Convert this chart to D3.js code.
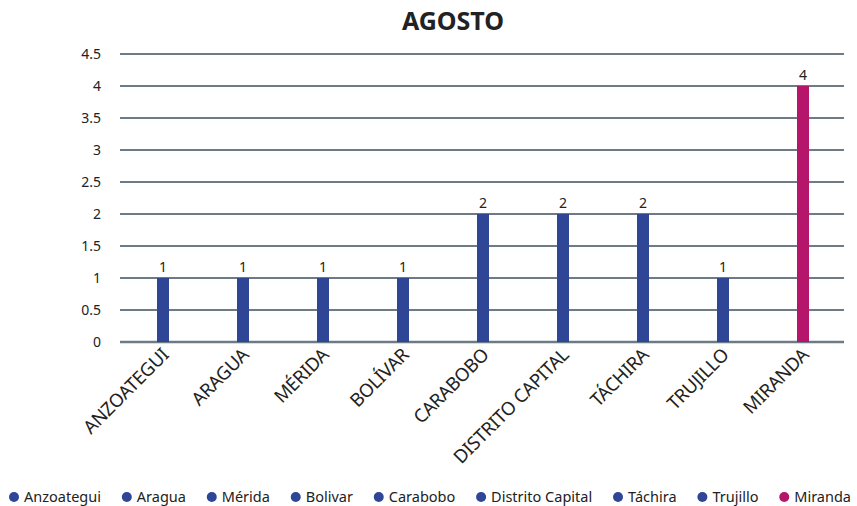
<!DOCTYPE html>
<html>
<head>
<meta charset="utf-8">
<script src="https://cdn.jsdelivr.net/npm/d3@7"></script>
<style>
body { margin: 0; background: #fff; }
text { font-family: "Noto Sans", "Open Sans", sans-serif; fill: #222; }
</style>
</head>
<body>
<svg width="857" height="506"></svg>
<script>
const categories = ["ANZOATEGUI", "ARAGUA", "MÉRIDA", "BOLÍVAR", "CARABOBO", "DISTRITO CAPITAL", "TÁCHIRA", "TRUJILLO", "MIRANDA"];
const values = [1, 1, 1, 1, 2, 2, 2, 1, 4];
const legendNames = ["Anzoategui", "Aragua", "Mérida", "Bolivar", "Carabobo", "Distrito Capital", "Táchira", "Trujillo", "Miranda"];
const yTicks = [0, 0.5, 1, 1.5, 2, 2.5, 3, 3.5, 4, 4.5];

const blue = "#2f4595", magenta = "#b5156b";
const barColor = (d, i) => i === categories.length - 1 ? magenta : blue;

const svg = d3.select("svg");

const x = d3.scaleBand().domain(categories).range([123, 843]);
const y = d3.scaleLinear().domain([0, 4.5]).range([342, 54]);

svg.append("text")
    .attr("x", 453).attr("y", 30)
    .attr("text-anchor", "middle")
    .style("font-size", "25px").style("font-weight", "bold")
    .text("AGOSTO");

// grid
svg.append("g").selectAll("line")
    .data(yTicks).enter().append("line")
    .attr("x1", 120).attr("x2", 844)
    .attr("y1", d => y(d)).attr("y2", d => y(d))
    .attr("stroke", "#6d7b87").attr("stroke-width", d => d === 0 ? 2.5 : 1.8);

svg.append("g").selectAll("text")
    .data(yTicks).enter().append("text")
    .attr("x", 101).attr("y", d => y(d) + 5)
    .attr("text-anchor", "end")
    .style("font-size", "14px")
    .text(d => d);

// bars
svg.append("g").selectAll("rect")
    .data(values).enter().append("rect")
    .attr("x", (d, i) => x(categories[i]) + x.bandwidth() / 2 - 6)
    .attr("width", 12)
    .attr("y", d => y(d))
    .attr("height", d => y(0) - y(d))
    .attr("fill", barColor);

svg.append("g").selectAll("text")
    .data(values).enter().append("text")
    .attr("x", (d, i) => x(categories[i]) + x.bandwidth() / 2)
    .attr("y", d => y(d) - 6)
    .attr("text-anchor", "middle")
    .style("font-size", "14px")
    .text(d => d);

// x labels
svg.append("g").selectAll("text")
    .data(categories).enter().append("text")
    .attr("transform", d => `translate(${x(d) + x.bandwidth() / 2 + 7},${356}) rotate(-45)`)
    .attr("text-anchor", "end")
    .style("font-size", "18.5px")
    .style("letter-spacing", "-0.3px")
    .text(d => d);

// legend
const legend = svg.append("g");
const items = legend.selectAll("g")
    .data(legendNames).enter().append("g");
items.append("circle").attr("r", 5).attr("cy", -5)
    .attr("fill", (d, i) => barColor(d, i));
items.append("text").attr("x", 10)
    .style("font-size", "14.5px")
    .text(d => d);
const widths = [];
items.each(function () { widths.push(this.getBBox().width); });
const gap = (847 - 5 - d3.sum(widths)) / (widths.length - 1);
let lx = 14;
items.each(function (d, i) {
    d3.select(this).attr("transform", `translate(${lx},0)`);
    lx += widths[i] + gap;
});
legend.attr("transform", "translate(0,502)");
</script>
</body>
</html>
